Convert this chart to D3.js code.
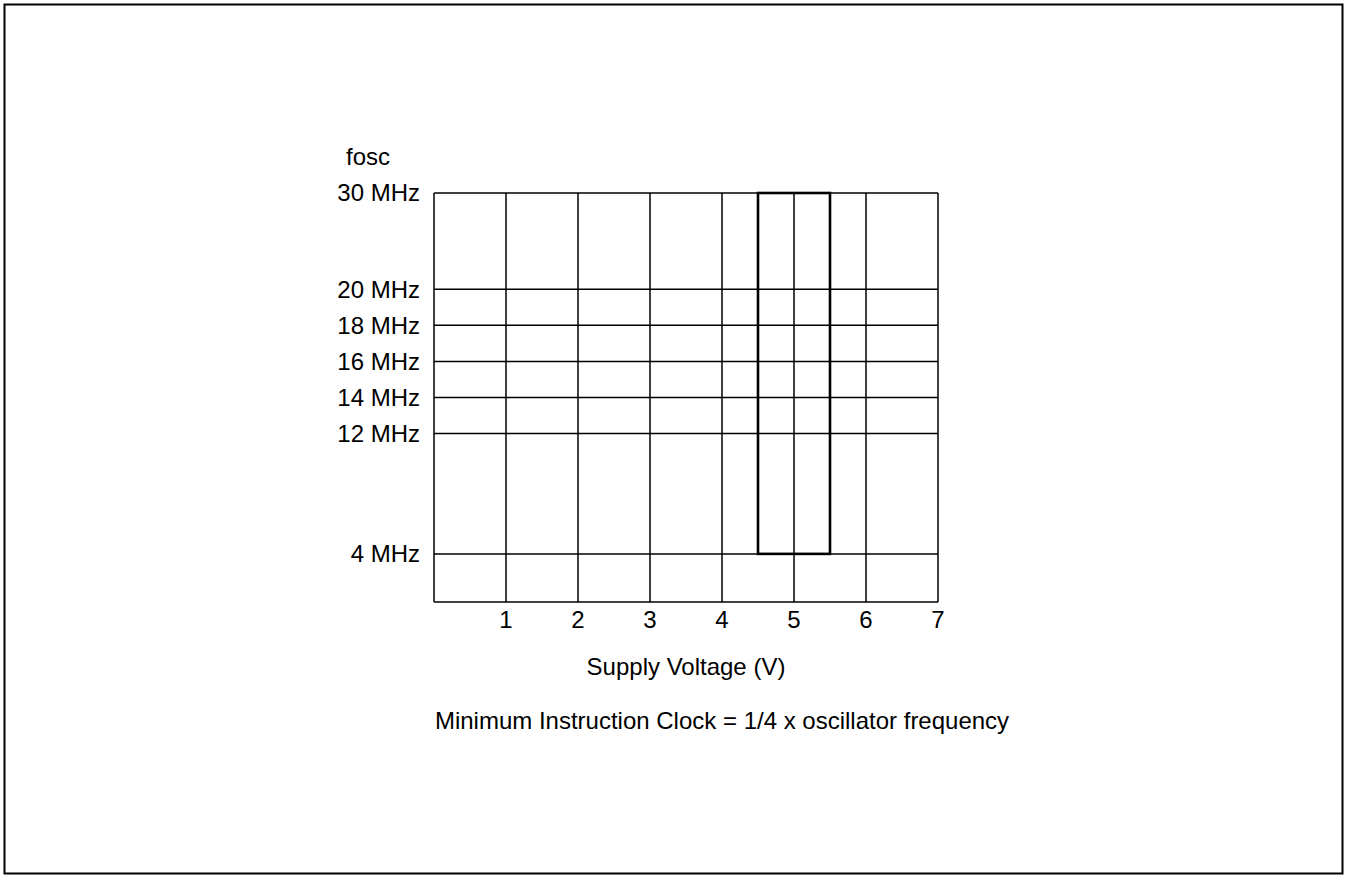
<!DOCTYPE html>
<html><head><meta charset="utf-8">
<script src="https://cdn.jsdelivr.net/npm/d3@7"></script>
<style>body{margin:0;background:#fff}svg{display:block}text{font-family:"Liberation Sans",Arial,sans-serif;fill:#000}</style>
</head><body>
<svg id="c" width="1348" height="878"></svg>
<script>
// Data
const voltageTicks = [1, 2, 3, 4, 5, 6, 7];
const freqTicks = [4, 12, 14, 16, 18, 20, 30];          // MHz (schematic, non-uniform axis)
const freqTickLabels = ["4 MHz", "12 MHz", "14 MHz", "16 MHz", "18 MHz", "20 MHz", "30 MHz"];
const axisBreaks = [0, 4, 12, 14, 16, 18, 20, 30];      // piecewise axis stops
const axisWeights = [0, 4, 14, 17, 20, 23, 26, 34];     // relative drawn spacing of stops (schematic)
const operatingVoltage = [4.5, 5.5];                    // V
const operatingFreq = [4, 30];                          // MHz
const yTitle = "fosc";
const xTitle = "Supply Voltage (V)";
const caption = "Minimum Instruction Clock = 1/4 x oscillator frequency";

const svg = d3.select("#c");
svg.append("rect").attr("x", 4.5).attr("y", 4.5).attr("width", 1338).attr("height", 869)
  .attr("fill", "none").attr("stroke", "#000").attr("stroke-width", 2);

const L = 434, R = 938, T = 193, B = 602;
const x = d3.scaleLinear().domain([0, 7]).range([L, R]);
const wMax = axisWeights[axisWeights.length - 1];
const y = d3.scaleLinear().domain(axisBreaks)
  .range(axisWeights.map(w => B - (B - T) * w / wMax));

const g = svg.append("g");
const sw = 1.5;
g.selectAll("line.h").data(freqTicks).join("line").attr("class", "h")
  .attr("x1", L).attr("x2", R).attr("y1", d => y(d)).attr("y2", d => y(d))
  .attr("stroke", "#000").attr("stroke-width", sw);
g.selectAll("line.v").data(voltageTicks).join("line").attr("class", "v")
  .attr("x1", d => x(d)).attr("x2", d => x(d)).attr("y1", T).attr("y2", B)
  .attr("stroke", "#000").attr("stroke-width", sw);
g.append("line").attr("x1", L).attr("x2", L).attr("y1", T).attr("y2", B).attr("stroke", "#000").attr("stroke-width", sw);
g.append("line").attr("x1", L).attr("x2", R).attr("y1", B).attr("y2", B).attr("stroke", "#000").attr("stroke-width", sw);

g.append("rect")
  .attr("x", x(operatingVoltage[0])).attr("y", y(operatingFreq[1]))
  .attr("width", x(operatingVoltage[1]) - x(operatingVoltage[0]))
  .attr("height", y(operatingFreq[0]) - y(operatingFreq[1]))
  .attr("fill", "none").attr("stroke", "#000").attr("stroke-width", 2.6);

const fs = 24;
g.selectAll("text.yl").data(freqTicks).join("text").attr("class", "yl")
  .attr("x", L - 14).attr("y", d => y(d)).attr("dy", "0.35em")
  .attr("text-anchor", "end").attr("font-size", fs)
  .text((d, i) => freqTickLabels[i]);
g.selectAll("text.xl").data(voltageTicks).join("text").attr("class", "xl")
  .attr("x", d => x(d)).attr("y", 620).attr("dy", "0.35em")
  .attr("text-anchor", "middle").attr("font-size", fs).text(d => d);
svg.append("text").attr("x", 368).attr("y", 157).attr("dy", "0.35em")
  .attr("text-anchor", "middle").attr("font-size", fs).text(yTitle);
svg.append("text").attr("x", 686).attr("y", 667).attr("dy", "0.35em")
  .attr("text-anchor", "middle").attr("font-size", fs).text(xTitle);
svg.append("text").attr("x", 722).attr("y", 721).attr("dy", "0.35em")
  .attr("text-anchor", "middle").attr("font-size", fs).text(caption);
</script>
</body></html>
